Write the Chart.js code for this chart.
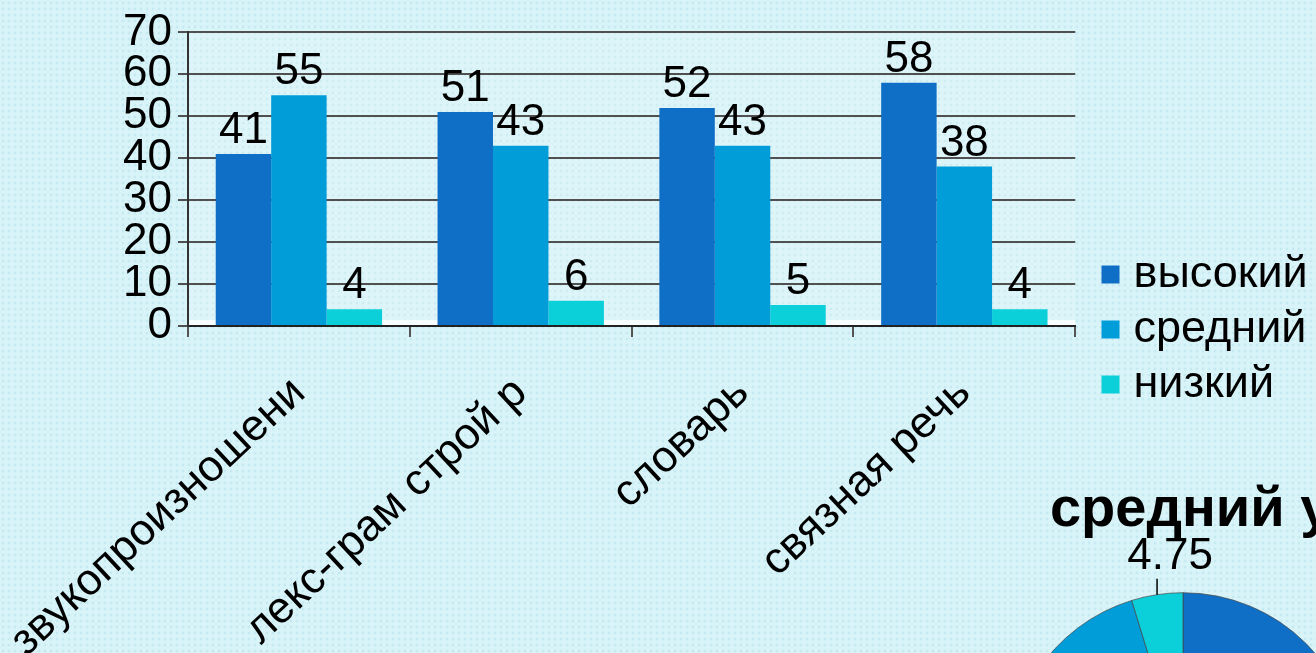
<!DOCTYPE html>
<html>
<head>
<meta charset="utf-8">
<script src="https://cdn.jsdelivr.net/npm/chart.js@4.4.1/dist/chart.umd.min.js"></script>
<style>
html, body { margin:0; padding:0; width:1316px; height:653px; overflow:hidden; }
body {
  position:relative;
  background-color:#d8f4f8;
  background-image: radial-gradient(circle, #c6eaf1 1.3px, transparent 1.7px);
  background-size: 6px 6px;
}
#bar { position:absolute; left:0; top:0; }
#pie { position:absolute; left:941px; top:440px; }
</style>
</head>
<body>
<canvas id="bar" width="1316" height="653"></canvas>
<canvas id="pie" width="700" height="502"></canvas>
<script>
// ---- data ----
const categories = ['звукопроизношени', 'лекс-грам строй р', 'словарь', 'связная речь'];
const seriesNames = ['высокий', 'средний', 'низкий'];
const highValues = [41, 51, 52, 58];
const midValues = [55, 43, 43, 38];
const lowValues = [4, 6, 5, 4];
const yMin = 0, yMax = 70, yStep = 10;
const pieTitle = 'средний уровень';
const pieValues = [50.5, 44.75, 4.75];

// ---- styles ----
const colors = ['#0F6FC6', '#009DD9', '#0BD0D9'];
const FONT = "'Liberation Sans', Arial, sans-serif";
Chart.defaults.font.family = FONT;
Chart.defaults.color = '#000';

const plotTint = {
  id: 'plotTint',
  beforeDraw(chart) {
    const a = chart.chartArea, ctx = chart.ctx;
    ctx.save();
    ctx.fillStyle = 'rgba(255,255,255,0.14)';
    ctx.fillRect(a.left, a.top, a.right - a.left, a.bottom - a.top);
    ctx.restore();
  },
  beforeDatasetsDraw(chart) {
    const a = chart.chartArea, ctx = chart.ctx;
    ctx.save();
    ctx.fillStyle = 'rgba(250,255,255,0.9)';
    ctx.fillRect(a.left + 1, a.bottom - 6, a.right - a.left - 1, 5);
    ctx.restore();
  }
};

const barValueLabels = {
  id: 'barValueLabels',
  afterDatasetsDraw(chart) {
    const ctx = chart.ctx;
    ctx.save();
    ctx.font = '44px ' + FONT;
    ctx.fillStyle = '#000';
    ctx.textAlign = 'center';
    ctx.textBaseline = 'alphabetic';
    chart.data.datasets.forEach((ds, di) => {
      const meta = chart.getDatasetMeta(di);
      meta.data.forEach((bar, i) => {
        ctx.fillText(String(ds.data[i]), bar.x, bar.y - 11);
      });
    });
    ctx.restore();
  }
};

const moveLegend = {
  id: 'moveLegend',
  afterLayout(chart) {
    const lg = chart.legend;
    if (!lg) return;
    const h = lg.bottom - lg.top;
    const w = lg.right - lg.left;
    lg.top = 242; lg.bottom = 242 + h;
    lg.left = 1100; lg.right = 1100 + w;
  }
};

new Chart(document.getElementById('bar'), {
  type: 'bar',
  data: {
    labels: categories,
    datasets: [
      { label: seriesNames[0], data: highValues, backgroundColor: colors[0], borderWidth: 0 },
      { label: seriesNames[1], data: midValues, backgroundColor: colors[1], borderWidth: 0 },
      { label: seriesNames[2], data: lowValues, backgroundColor: colors[2], borderWidth: 0 }
    ]
  },
  options: {
    responsive: false,
    animation: false,
    events: [],
    layout: { padding: { top: 29, right: 23, bottom: 0, left: 0 } },
    datasets: { bar: { categoryPercentage: 0.75, barPercentage: 1.0 } },
    scales: {
      x: {
        ticks: { color: '#000', font: { size: 44 }, minRotation: 43, maxRotation: 43, autoSkip: false, padding: 30 },
        grid: { drawOnChartArea: false, drawTicks: true, tickLength: 11, color: '#555', lineWidth: 2, offset: true },
        border: { color: '#222', width: 2 },
        afterFit(s) { s.height = 327; s.paddingLeft = 0; s.paddingRight = 0; }
      },
      y: {
        min: yMin, max: yMax,
        ticks: { stepSize: yStep, autoSkip: false, color: '#000', font: { size: 44 }, padding: 6 },
        grid: { color: '#505050', lineWidth: 2, tickLength: 10 },
        border: { color: '#333', width: 2 },
        afterFit(s) { s.width = 188; }
      }
    },
    plugins: {
      legend: {
        position: 'right',
        align: 'start',
        labels: { usePointStyle: true, pointStyle: 'rect', boxWidth: 1, boxHeight: 18, padding: 10, color: '#000', font: { size: 45 } }
      },
      tooltip: { enabled: false }
    }
  },
  plugins: [plotTint, barValueLabels, moveLegend]
});

const pieValueLabels = {
  id: 'pieValueLabels',
  afterDatasetsDraw(chart) {
    const ctx = chart.ctx;
    const meta = chart.getDatasetMeta(0);
    ctx.save();
    ctx.font = '44px ' + FONT;
    ctx.fillStyle = '#000';
    ctx.strokeStyle = '#000';
    ctx.lineWidth = 1.5;
    ctx.textAlign = 'center';
    ctx.textBaseline = 'alphabetic';
    meta.data.forEach((arc, i) => {
      const p = arc.getProps(['x', 'y', 'startAngle', 'endAngle', 'outerRadius'], true);
      const mid = (p.startAngle + p.endAngle) / 2;
      const ex = p.x + Math.cos(mid) * p.outerRadius;
      const ey = p.y + Math.sin(mid) * p.outerRadius;
      const lx = ex, ly = ey - 16;
      ctx.beginPath(); ctx.moveTo(ex, ey); ctx.lineTo(lx, ly); ctx.stroke();
      ctx.fillText(String(chart.data.datasets[0].data[i]), lx + 13, ly - 10);
    });
    ctx.restore();
  }
};

new Chart(document.getElementById('pie'), {
  type: 'pie',
  data: {
    labels: seriesNames,
    datasets: [{ data: pieValues, backgroundColor: colors, borderColor: 'rgba(70,70,70,0.7)', borderWidth: 1 }]
  },
  options: {
    responsive: false,
    animation: false,
    events: [],
    plugins: {
      legend: {
        display: true, position: 'right', maxWidth: 216,
        labels: { boxWidth: 18, boxHeight: 18, color: '#000', font: { size: 45 } }
      },
      tooltip: { enabled: false },
      title: {
        display: true, text: pieTitle, color: '#000',
        font: { size: 56, weight: 'bold' },
        padding: { top: 37, bottom: 48 }
      }
    }
  },
  plugins: [pieValueLabels]
});
</script>
</body>
</html>
